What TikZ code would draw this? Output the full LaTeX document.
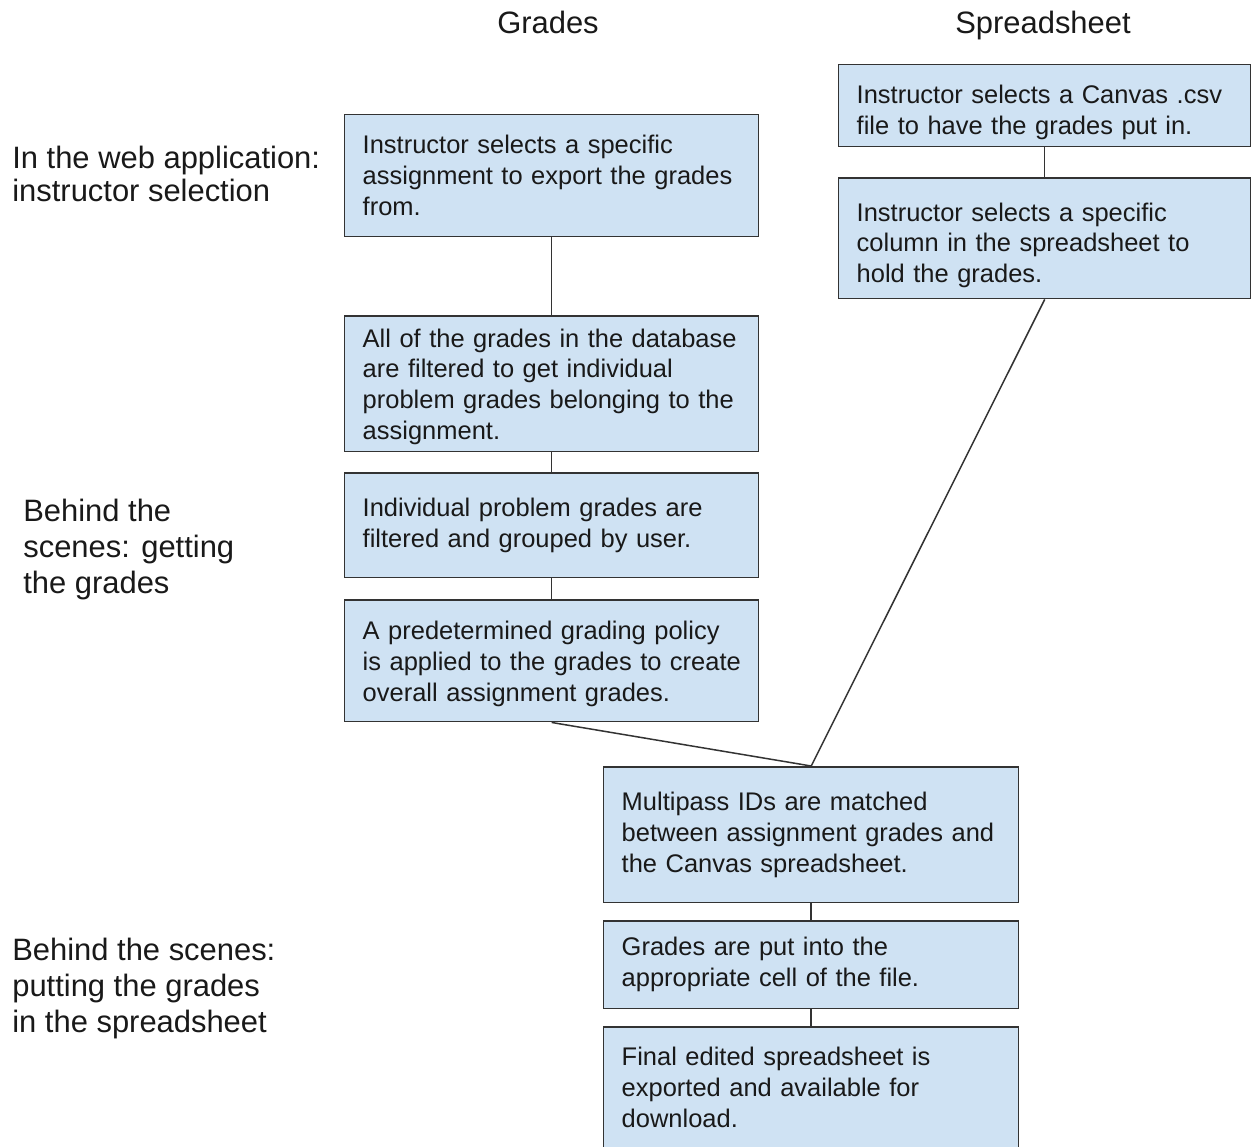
\documentclass[tikz,border=0pt]{standalone}
\usepackage{fontspec}
\setmainfont{Liberation Sans}
\newcommand{\bl}[1]{\mbox{#1}}
\begin{document}
\begin{tikzpicture}[x=0.02cm,y=-0.02cm,
  stepbox/.style={draw=black!80, line width=0.85pt, fill=boxblue, anchor=north west,
    inner xsep=0.36cm, inner ysep=0pt, align=left, text=black!90,
    font=\fontsize{14.5}{17.6}\selectfont},
  gbox/.style={stepbox, minimum width=8.28cm, text width=7.56cm},
  link/.style={draw=black!80, line width=0.85pt},
  lbl/.style={anchor=north west, inner sep=0pt, align=left, text=black!90,
    font=\fontsize{17.6}{20.4}\selectfont},
  ttl/.style={inner sep=0pt, anchor=base, text=black!90, font=\fontsize{17.6}{20.4}\selectfont}]
\definecolor{boxblue}{HTML}{CFE2F3}
\useasboundingbox (0,0) rectangle (1252,1147);
\clip (0,0) rectangle (1252,1147);
\fill[white] (0,0) rectangle (1252,1147);

\node[ttl] (tg) at (548,33) {Grades};
\node[ttl] (ts) at (1043,33) {Spreadsheet};

\node[lbl, font=\fontsize{17.6}{18.7}\selectfont] (l1) at (12,146) {In the web application:\\instructor selection};
\node[lbl] (l2) at (23,499) {Behind the\\scenes: getting\\the grades};
\node[lbl] (l3) at (12,938) {Behind the scenes:\\putting the grades\\in the spreadsheet};

\node[gbox, minimum height=2.44cm] (g1) at (344,114) {\bl{Instructor selects a specific}\\\bl{assignment to export the grades}\\\bl{from.}};
\node[gbox, minimum height=2.72cm] (g2) at (344,315) {\rule{0pt}{14pt}\bl{All of the grades in the database}\\\bl{are filtered to get individual}\\\bl{problem grades belonging to the}\\\bl{assignment.}};
\node[gbox, minimum height=2.10cm] (g3) at (344,472) {\bl{Individual problem grades are}\\\bl{filtered and grouped by user.}};
\node[gbox, minimum height=2.44cm] (g4) at (344,599) {\rule{0pt}{14pt}\bl{A predetermined grading policy}\\\bl{is applied to the grades to create}\\\bl{overall assignment grades.}};

\node[gbox, minimum width=8.24cm, text width=7.52cm, minimum height=1.64cm] (s1) at (838,64) {\rule{0pt}{18.6pt}\bl{Instructor selects a Canvas .csv}\\\bl{file to have the grades put in.}};
\node[gbox, minimum width=8.24cm, text width=7.52cm, minimum height=2.42cm] (s2) at (838,177) {\rule{0pt}{18.6pt}\bl{Instructor selects a specific}\\\bl{column in the spreadsheet to}\\\bl{hold the grades.}};

\node[gbox, minimum width=8.30cm, text width=7.58cm, minimum height=2.72cm] (m1) at (603,766) {\bl{Multipass IDs are matched}\\\bl{between assignment grades and}\\\bl{the Canvas spreadsheet.}};
\node[gbox, minimum width=8.30cm, text width=7.58cm, minimum height=1.76cm] (m2) at (603,920) {\bl{Grades are put into the}\\\bl{appropriate cell of the file.}};
\node[gbox, minimum width=8.30cm, text width=7.58cm, minimum height=2.44cm] (m3) at (603,1026) {\bl{Final edited spreadsheet is}\\\bl{exported and available for}\\\bl{download.}};

\draw[link] (g1.south) -- (g2.north);
\draw[link] (g2.south) -- (g3.north);
\draw[link] (g3.south) -- (g4.north);
\draw[link] (g4.south) -- (m1.north);
\draw[link] (s1.south) -- (s2.north);
\draw[link] (s2.south) -- (m1.north);
\draw[link] (m1.south) -- (m2.north);
\draw[link] (m2.south) -- (m3.north);
\end{tikzpicture}
\end{document}
